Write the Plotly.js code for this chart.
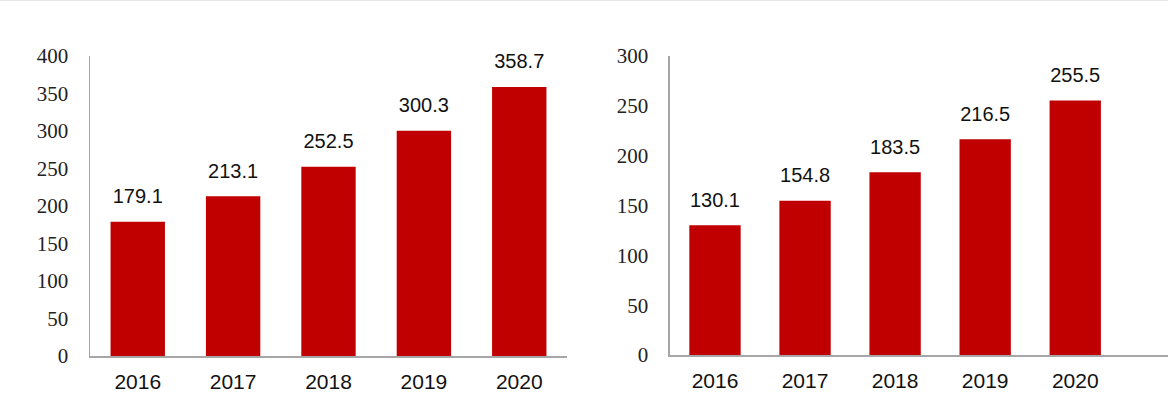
<!DOCTYPE html>
<html>
<head>
<meta charset="utf-8">
<script src="https://cdn.plot.ly/plotly-3.0.1.min.js"></script>
<style>
  html, body { margin: 0; padding: 0; background: #fff; }
  #chart { width: 1168px; height: 403px; }
</style>
</head>
<body>
<div id="chart"></div>
<script>
// values
const years = ['2016', '2017', '2018', '2019', '2020'];
const leftValues = [179.1, 213.1, 252.5, 300.3, 358.7];
const rightValues = [130.1, 154.8, 183.5, 216.5, 255.5];
const leftTicks = [0, 50, 100, 150, 200, 250, 300, 350, 400];
const rightTicks = [0, 50, 100, 150, 200, 250, 300];

const barColor = '#C00000';
const axisColor = '#a6a6a6';
const labelFont = {family: 'Liberation Sans, Arial, sans-serif', size: 20, color: '#111'};

// bars plus an invisible-marker text trace for the value labels
function panel(values, xa, ya) {
    return [
        {
            type: 'bar', x: years, y: values, xaxis: xa, yaxis: ya,
            marker: {color: barColor}, width: 0.57, hoverinfo: 'skip'
        },
        {
            type: 'scatter', mode: 'markers+text', x: years, y: values, xaxis: xa, yaxis: ya,
            text: values.map(v => v.toFixed(1)), textposition: 'top center',
            textfont: labelFont, cliponaxis: false,
            marker: {size: 20, color: 'rgba(0,0,0,0)'}, hoverinfo: 'skip'
        }
    ];
}

const traces = panel(leftValues, 'x', 'y').concat(panel(rightValues, 'x2', 'y2'));

const xCommon = {
    type: 'category', showgrid: false, zeroline: false, showline: true,
    linecolor: axisColor, linewidth: 1.5, ticks: '', ticklabelstandoff: 6,
    tickfont: {family: 'Liberation Sans, Arial, sans-serif', size: 21, color: '#111'}
};
const yCommon = {
    showgrid: false, zeroline: false, showline: true, linecolor: axisColor,
    linewidth: 1.5, ticks: '', tickmode: 'array', ticklabelstandoff: 16,
    tickfont: {family: 'Liberation Serif, Times New Roman, serif', size: 21, color: '#222'}
};

const layout = {
    width: 1168, height: 403,
    margin: {l: 0, r: 0, t: 0, b: 0},
    paper_bgcolor: '#fff', plot_bgcolor: 'rgba(0,0,0,0)',
    showlegend: false,
    xaxis: Object.assign({}, xCommon, {domain: [0.0771, 0.4854], range: [-0.5, 4.5], anchor: 'y'}),
    yaxis: Object.assign({}, yCommon, {domain: [0.1166, 0.861], range: [0, 400], tickvals: leftTicks, anchor: 'x'}),
    xaxis2: Object.assign({}, xCommon, {domain: [0.5736, 1], range: [-0.5, 5.03], anchor: 'y2'}),
    yaxis2: Object.assign({}, yCommon, {domain: [0.119, 0.861], range: [0, 300], tickvals: rightTicks, anchor: 'x2'}),
    shapes: [{
        type: 'line', xref: 'paper', yref: 'paper', x0: 0, x1: 1, y0: 0.999, y1: 0.999,
        line: {color: '#e3e3e3', width: 1}
    }]
};

Plotly.newPlot('chart', traces, layout, {displayModeBar: false, staticPlot: true});
</script>
</body>
</html>
